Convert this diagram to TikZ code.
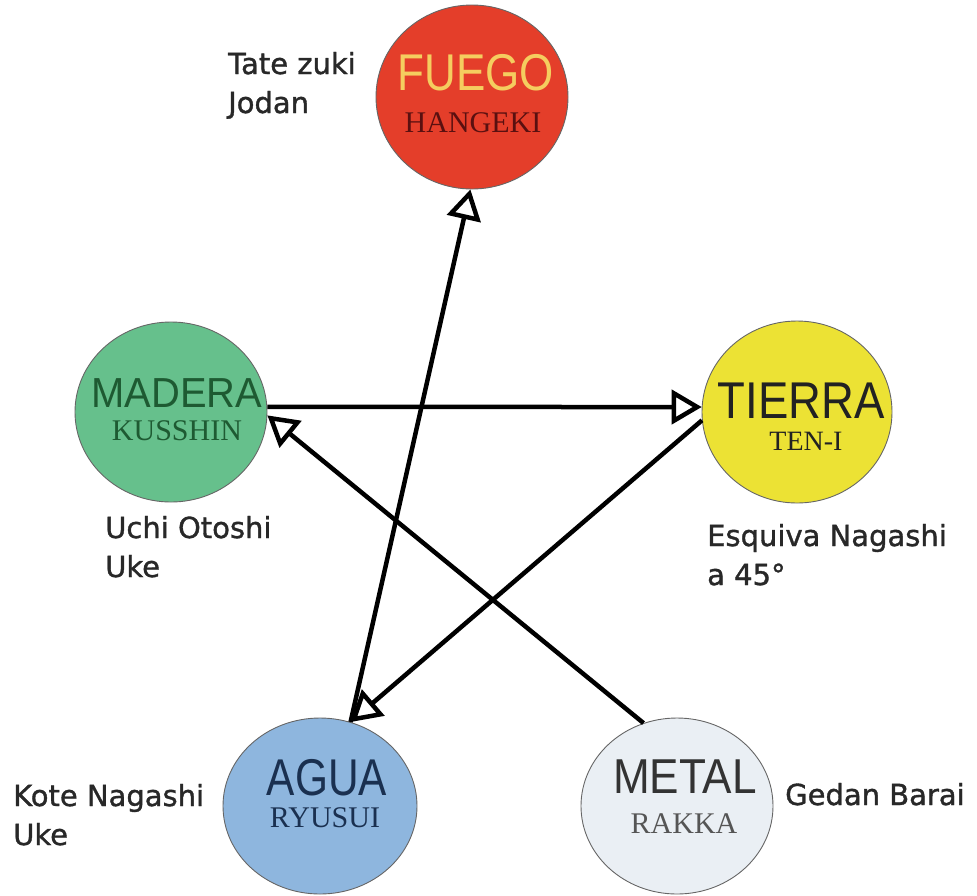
\documentclass[tikz,border=0pt]{standalone}
\usepackage{fontspec}
\usepackage{graphicx}
\setmainfont{DejaVu Sans}
\newfontfamily\lblfont[FakeBold=1.2]{DejaVu Sans}
\newfontfamily\elemfont{Liberation Sans}
\newfontfamily\subfont{Liberation Serif}
\usetikzlibrary{arrows.meta,shapes.geometric}
\definecolor{fuegofill}{RGB}{228,62,42}
\definecolor{fuegotext}{RGB}{245,205,95}
\definecolor{fuegosub}{RGB}{90,16,16}
\definecolor{maderafill}{RGB}{102,192,140}
\definecolor{maderatext}{RGB}{30,90,50}
\definecolor{tierrafill}{RGB}{236,226,52}
\definecolor{tierratext}{RGB}{34,34,34}
\definecolor{aguafill}{RGB}{142,182,222}
\definecolor{aguatext}{RGB}{26,48,80}
\definecolor{metalfill}{RGB}{234,239,244}
\definecolor{metaltext}{RGB}{51,51,51}
\definecolor{metalsub}{RGB}{85,85,85}
\definecolor{labelgray}{RGB}{40,40,40}
\tikzset{
  elem/.style={ellipse, draw=black!60, line width=0.9pt, inner sep=0pt},
  bigword/.style={anchor=base, inner sep=0pt, font=\elemfont\fontsize{51.7}{52}\selectfont},
  subword/.style={anchor=base, inner sep=0pt, font=\subfont\fontsize{30}{30}\selectfont},
  lbl/.style={anchor=base west, inner sep=0pt, align=left, text=labelgray, font=\lblfont\fontsize{29}{39}\selectfont},
  arr/.style={line width=4.5pt, -{Triangle[open, length=30pt, width=34pt]}},
}
\begin{document}
\begin{tikzpicture}[x=1pt,y=-1pt]
\useasboundingbox (0,0) rectangle (977,895);
% element circles
\node[elem, fill=fuegofill, minimum width=192pt, minimum height=184pt] (fuego) at (472,97) {};
\node[elem, fill=maderafill, minimum width=192pt, minimum height=180pt] (madera) at (171,412) {};
\node[elem, fill=tierrafill, minimum width=190pt, minimum height=182pt] (tierra) at (797,412) {};
\node[elem, fill=aguafill, minimum width=194pt, minimum height=176pt] (agua) at (320,806) {};
\node[elem, fill=metalfill, minimum width=192pt, minimum height=176pt] (metal) at (677,806) {};
% connectors
\draw[arr] (agua.70) -- (fuego.-91);
\draw[arr] (madera.3) -- (tierra.177);
\draw[arr] (tierra.185) -- (agua.70);
\draw[arr] (metal.112) -- (madera.-2);
% element names
\node[bigword, text=fuegotext] (fuegoname) at (476,90) {\scalebox{0.85}[1]{FUEGO}};
\node[subword, text=fuegosub] (fuegosubn) at (473,132) {HANGEKI};
\node[bigword, text=maderatext, font=\elemfont\fontsize{42}{42}\selectfont] (maderaname) at (177,407) {\scalebox{0.95}[1]{MADERA}};
\node[subword, text=maderatext] (maderasubn) at (177,440) {KUSSHIN};
\node[bigword, text=tierratext] (tierraname) at (801,418) {\scalebox{0.88}[1]{TIERRA}};
\node[subword, text=tierratext, font=\subfont\fontsize{28}{28}\selectfont] (tierrasubn) at (806,450) {TEN-I};
\node[bigword, text=aguatext] (aguaname) at (327,795) {\scalebox{0.82}[1]{AGUA}};
\node[subword, text=aguatext] (aguasubn) at (325,827) {RYUSUI};
\node[bigword, text=metaltext, font=\elemfont\fontsize{49}{49}\selectfont] (metalname) at (685,793) {\scalebox{0.9}[1]{METAL}};
\node[subword, text=metalsub] (metalsubn) at (684,833) {RAKKA};
% technique labels (base = baseline of the last line)
\node[lbl] (tate) at (228,113) {Tate zuki\\Jodan};
\node[lbl] (uchi) at (105,577) {Uchi Otoshi\\Uke};
\node[lbl] (esquiva) at (707,585) {Esquiva Nagashi\\a 45°};
\node[lbl] (kote) at (13,845) {Kote Nagashi\\Uke};
\node[lbl] (gedan) at (785,805) {Gedan Barai};
\end{tikzpicture}
\end{document}
